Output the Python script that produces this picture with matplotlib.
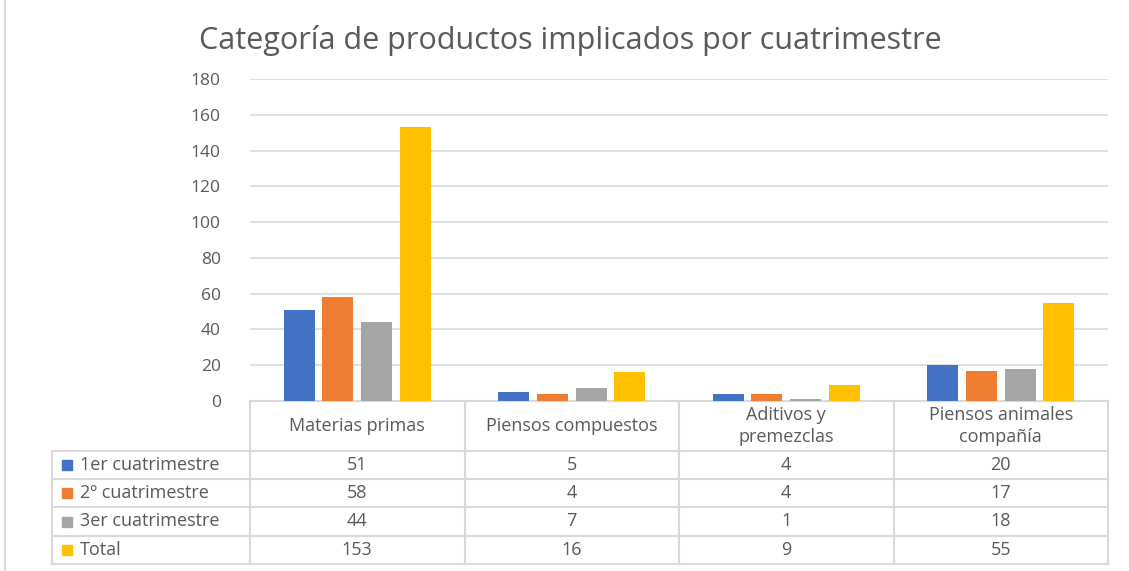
import matplotlib
matplotlib.use("Agg")
from matplotlib import pyplot as plt
from matplotlib.transforms import blended_transform_factory
import numpy as np

plt.rcParams['font.family'] = ['Open Sans', 'DejaVu Sans']

categories = ["Materias primas", "Piensos compuestos", "Aditivos y\npremezclas", "Piensos animales\ncompañía"]
series_names = ["1er cuatrimestre", "2º cuatrimestre", "3er cuatrimestre", "Total"]
primer = [51, 5, 4, 20]
segundo = [58, 4, 4, 17]
tercero = [44, 7, 1, 18]
total = [153, 16, 9, 55]
yticks = [0, 20, 40, 60, 80, 100, 120, 140, 160, 180]

colors = ["#4472C4", "#ED7D31", "#A5A5A5", "#FFC000"]
text_col = "#595959"
line_col = "#D9D9D9"

W, H = 1129, 571
fig = plt.figure(figsize=(W / 100, H / 100), dpi=100)
ax = fig.add_axes([250 / W, 1 - 401 / H, 858 / W, 322 / H])

series = [primer, segundo, tercero, total]
x = np.arange(len(categories))
step = 0.18
width = 0.145
for i, vals in enumerate(series):
    ax.bar(x + (i - 1.5) * step, vals, width, color=colors[i], zorder=3)

ax.set_xlim(-0.5, len(categories) - 0.5)
ax.set_ylim(0, 180)
ax.set_yticks(yticks)
ax.yaxis.grid(True, color=line_col, linewidth=1.2, zorder=0)
ax.tick_params(axis='y', length=0, labelsize=12.5, labelcolor=text_col, pad=21)
ax.set_xticks([])
for s in ax.spines.values():
    s.set_visible(False)

fig.text(570 / W, 1 - 40 / H, "Categoría de productos implicados por cuatrimestre",
         ha='center', va='center', fontsize=22, color=text_col)

# data table under the axis: x in data units, y in figure pixels
tr = blended_transform_factory(ax.transData, fig.transFigure)
trf = fig.transFigure
def fy(p):
    return 1 - p / H

rows_y = [401, 451, 479, 507, 536, 564]
left_px = 52
x_left = -0.5
x_right = len(categories) - 0.5

# horizontal lines
ax.plot([x_left, x_right], [fy(rows_y[0])] * 2, color=line_col, lw=1.5, transform=tr, clip_on=False)
for yy in rows_y[1:]:
    ax.plot([left_px / W, 1108 / W], [fy(yy)] * 2, color=line_col, lw=1.5, transform=trf, clip_on=False)
# vertical lines
for b in np.arange(len(categories) + 1) - 0.5:
    ax.plot([b, b], [fy(rows_y[0]), fy(rows_y[-1])], color=line_col, lw=1.5, transform=tr, clip_on=False)
ax.plot([left_px / W] * 2, [fy(rows_y[1]), fy(rows_y[-1])], color=line_col, lw=1.5, transform=trf, clip_on=False)

# header
for i, c in enumerate(categories):
    ax.text(i, fy((rows_y[0] + rows_y[1]) / 2), c, transform=tr, ha='center', va='center',
            fontsize=13, color=text_col, linespacing=1.3)

# rows
for r, (name, vals) in enumerate(zip(series_names, series)):
    yc = fy((rows_y[r + 1] + rows_y[r + 2]) / 2)
    fig.patches.append(plt.Rectangle((62 / W, yc - 5 / H), 10 / W, 10 / H,
                                     color=colors[r], transform=trf))
    fig.text(80 / W, yc, name, ha='left', va='center', fontsize=13, color=text_col)
    for i, v in enumerate(vals):
        ax.text(i, yc, str(v), transform=tr, ha='center', va='center', fontsize=13, color=text_col)

# chart border on the left
fig.add_artist(plt.Line2D([5 / W, 5 / W], [0, 1], color=line_col, lw=1.5, transform=trf))

plt.savefig("out.png", dpi=100)
